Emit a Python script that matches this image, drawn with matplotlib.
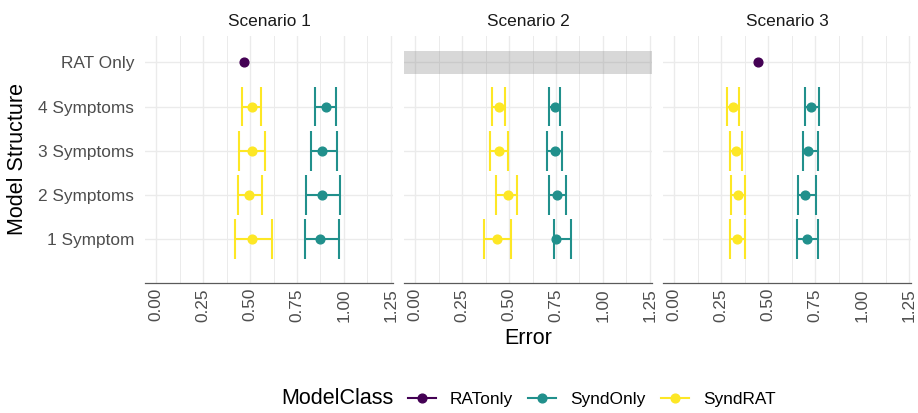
import matplotlib
matplotlib.use("Agg")
import matplotlib.pyplot as plt
from matplotlib.lines import Line2D
import numpy as np

plt.rcParams['font.family'] = ['Liberation Sans', 'DejaVu Sans']

# ---- data ----
categories = ["1 Symptom", "2 Symptoms", "3 Symptoms", "4 Symptoms", "RAT Only"]
symptom_levels = ["1 Symptom", "2 Symptoms", "3 Symptoms", "4 Symptoms"]
scenarios = ["Scenario 1", "Scenario 2", "Scenario 3"]
model_classes = ["RATonly", "SyndOnly", "SyndRAT"]
class_colors = ["#440154", "#21908C", "#FDE725"]

# SyndRAT (per scenario, levels 1..4 symptoms)
syndrat_mean = [[0.509, 0.497, 0.511, 0.509],
                [0.437, 0.492, 0.447, 0.446],
                [0.334, 0.341, 0.330, 0.313]]
syndrat_lower = [[0.419, 0.438, 0.442, 0.456],
                 [0.366, 0.430, 0.400, 0.410],
                 [0.295, 0.300, 0.295, 0.281]]
syndrat_upper = [[0.616, 0.564, 0.580, 0.557],
                 [0.508, 0.545, 0.495, 0.479],
                 [0.378, 0.378, 0.360, 0.343]]

# SyndOnly
syndonly_mean = [[0.870, 0.884, 0.882, 0.903],
                 [0.752, 0.755, 0.743, 0.745],
                 [0.704, 0.697, 0.713, 0.729]]
syndonly_lower = [[0.790, 0.799, 0.824, 0.847],
                  [0.741, 0.711, 0.704, 0.711],
                  [0.651, 0.657, 0.685, 0.694]]
syndonly_upper = [[0.974, 0.981, 0.962, 0.957],
                  [0.831, 0.801, 0.781, 0.771],
                  [0.763, 0.754, 0.766, 0.768]]

# RATonly (None = missing)
ratonly_mean = [0.470, None, 0.447]

x_ticks = [0.00, 0.25, 0.50, 0.75, 1.00, 1.25]
x_tick_labels = ["0.00", "0.25", "0.50", "0.75", "1.00", "1.25"]

# ---- figure ----
W, H = 918, 413
fig = plt.figure(figsize=(W / 100, H / 100), dpi=100)

lefts = [145, 404, 663.3]
panel_w = 248.0
top_px, bot_px = 35.5, 282.5

small = 12.4
base = 15.5
grid_col = "#EBEBEB"
cap_half = 0.45

ypos = {c: i + 1 for i, c in enumerate(categories)}

axes = []
for si, scen in enumerate(scenarios):
    ax = fig.add_axes([lefts[si] / W, 1 - bot_px / H, panel_w / W, (bot_px - top_px) / H])
    axes.append(ax)
    ax.set_xlim(-0.0586, 1.2607)
    ax.set_ylim(0.024, 5.606)

    # grid
    for xv in x_ticks:
        ax.axvline(xv, color=grid_col, lw=1.0, zorder=0)
    for xv in np.array(x_ticks[:-1]) + 0.125:
        ax.axvline(xv, color=grid_col, lw=0.7, zorder=0)
    for c in categories:
        ax.axhline(ypos[c], color=grid_col, lw=1.0, zorder=0)

    # series
    series = [
        ("SyndOnly", syndonly_mean[si], syndonly_lower[si], syndonly_upper[si], class_colors[1]),
        ("SyndRAT", syndrat_mean[si], syndrat_lower[si], syndrat_upper[si], class_colors[2]),
    ]
    for name, m, lo, hi, col in series:
        ys = [ypos[c] for c in symptom_levels]
        ax.hlines(ys, lo, hi, color=col, lw=1.5, zorder=2)
        ax.vlines(lo, np.array(ys) - cap_half, np.array(ys) + cap_half, color=col, lw=1.5, zorder=2)
        ax.vlines(hi, np.array(ys) - cap_half, np.array(ys) + cap_half, color=col, lw=1.5, zorder=2)
    for name, m, lo, hi, col in series:
        ys = [ypos[c] for c in symptom_levels]
        ax.plot(m, ys, 'o', color=col, markersize=6.3, zorder=3)

    if ratonly_mean[si] is not None:
        ax.plot([ratonly_mean[si]], [ypos["RAT Only"]], 'o', color=class_colors[0],
                markersize=6.3, zorder=3)
    else:
        ax.axhspan(ypos["RAT Only"] - 0.256, ypos["RAT Only"] + 0.256,
                   color="#7F7F7F", alpha=0.3, lw=0, zorder=1)

    # axes styling
    for sp in ["top", "right", "left"]:
        ax.spines[sp].set_visible(False)
    ax.spines["bottom"].set_color("#5A5A5A")
    ax.spines["bottom"].set_linewidth(0.9)
    ax.set_xticks(x_ticks)
    ax.set_xticklabels(x_tick_labels, rotation=90, fontsize=small, color="#4D4D4D")
    ax.tick_params(axis="x", length=0, pad=4)
    ax.set_yticks([ypos[c] for c in categories])
    if si == 0:
        ax.set_yticklabels(categories, fontsize=small, color="#4D4D4D")
    else:
        ax.set_yticklabels([])
    ax.tick_params(axis="y", length=0, pad=8)
    ax.set_title(scen, fontsize=small, color="#1A1A1A", pad=6.8)

# axis titles
fig.text((lefts[0] + lefts[2] + panel_w) / 2 / W, 1 - 338 / H, "Error",
         ha="center", va="center", fontsize=base)
fig.text(18 / W, 1 - 159 / H, "Model Structure", ha="center", va="center",
         rotation=90, fontsize=base)

# legend
handles = [Line2D([], [], color=c, marker='o', lw=1.5, markersize=6.3) for c in class_colors]
fig.text(281.7 / W, 1 - 399 / H, "ModelClass", ha="left", va="center", fontsize=base)
fig.legend(handles, model_classes, ncol=3, loc="center left",
           bbox_to_anchor=(407.7 / W, 1 - 399 / H), frameon=False,
           fontsize=small, handlelength=1.63, handletextpad=0.83,
           columnspacing=0.87, borderpad=0, borderaxespad=0)

fig.savefig("out.png", dpi=100)
